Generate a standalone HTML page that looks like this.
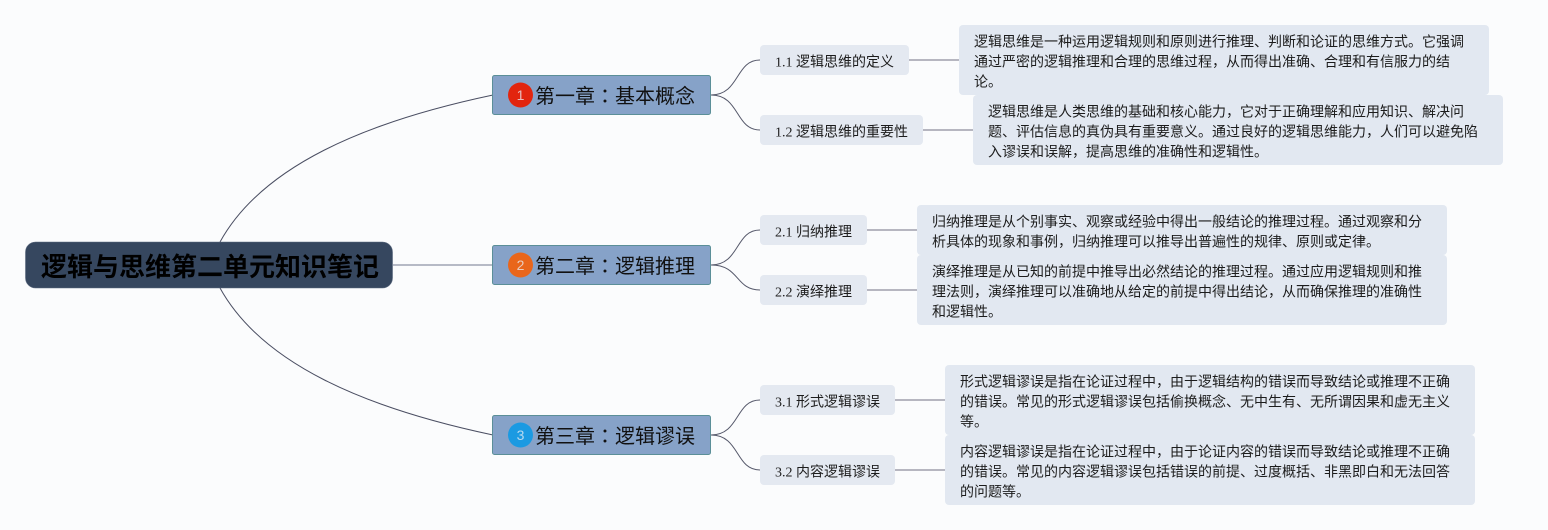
<!DOCTYPE html>
<html lang="zh">
<head>
<meta charset="utf-8">
<title>逻辑与思维第二单元知识笔记</title>
<style>
html,body{margin:0;padding:0;width:1548px;height:530px;overflow:hidden;background:#fbfcfd}
svg{display:block;position:absolute;left:0;top:0}
text{font-family:"Liberation Serif","WenQuanYi Zen Hei","Noto Sans CJK SC",serif;fill:#1c1c1c}
.d{font-size:14px}
.c{font-size:20px;fill:#111}
.n{font-size:14px;fill:#e9eef5;font-family:"Liberation Sans",sans-serif;text-anchor:middle;opacity:.75}
</style>
</head>
<body>
<svg width="1548" height="530" viewBox="0 0 1548 530" xmlns="http://www.w3.org/2000/svg">
<!-- root connectors -->
<g fill="none" stroke="#4a4e62" stroke-width="1">
<path d="M220 242C262 166 365 122 493 95"/>
<path d="M220 288C262 364 365 408 493 435"/>
</g>
<path d="M393 265H493" fill="none" stroke="#8d93a5" stroke-width="1.2"/>
<!-- chapter to section -->
<g fill="none" stroke="#55586a" stroke-width="1">
<path d="M711 95C740 95 735 60 760 60"/>
<path d="M711 95C740 95 735 130 760 130"/>
<path d="M711 265C740 265 735 230 760 230"/>
<path d="M711 265C740 265 735 290 760 290"/>
<path d="M711 435C740 435 735 400 760 400"/>
<path d="M711 435C740 435 735 470 760 470"/>
</g>
<!-- section to detail -->
<g fill="none" stroke="#8d8d9b" stroke-width="1.2">
<path d="M909 60H959"/>
<path d="M923 130H973"/>
<path d="M867 230H917"/>
<path d="M867 290H917"/>
<path d="M895 400H945"/>
<path d="M895 470H945"/>
</g>
<!-- root -->
<rect x="25.500" y="242" width="367" height="46" rx="10" fill="#36475f" stroke="#5d6b80" stroke-width=".6"/>
<text x="41" y="276" font-size="26" font-weight="700" style="fill:#000">逻辑与思维第二单元知识笔记</text>
<!-- chapters -->
<g fill="#86a2c8" stroke="#5b8f98" stroke-width="1">
<rect x="492.500" y="75.500" width="218" height="39" rx="2"/>
<rect x="492.500" y="245.500" width="218" height="39" rx="2"/>
<rect x="492.500" y="415.500" width="218" height="39" rx="2"/>
</g>
<circle cx="520.500" cy="95" r="12.500" fill="#e2250e"/>
<circle cx="520.500" cy="265" r="12.500" fill="#e9661b"/>
<circle cx="520.500" cy="435" r="12.500" fill="#1b9ae2"/>
<text class="n" x="520.500" y="100">1</text>
<text class="n" x="520.500" y="270">2</text>
<text class="n" x="520.500" y="440">3</text>
<text class="c" x="535" y="103">第一章<tspan dx="5" dy="-1">：</tspan><tspan dx="-5" dy="1">基本概念</tspan></text>
<text class="c" x="535" y="273">第二章<tspan dx="5" dy="-1">：</tspan><tspan dx="-5" dy="1">逻辑推理</tspan></text>
<text class="c" x="535" y="443">第三章<tspan dx="5" dy="-1">：</tspan><tspan dx="-5" dy="1">逻辑谬误</tspan></text>
<!-- sections -->
<g fill="#e4e9f1">
<rect x="760" y="45" width="149" height="30" rx="4"/>
<rect x="760" y="115" width="163" height="30" rx="4"/>
<rect x="760" y="215" width="107" height="30" rx="4"/>
<rect x="760" y="275" width="107" height="30" rx="4"/>
<rect x="760" y="385" width="135" height="30" rx="4"/>
<rect x="760" y="455" width="135" height="30" rx="4"/>
</g>
<text class="d" x="775" y="66.500">1.1 逻辑思维的定义</text>
<text class="d" x="775" y="136.500">1.2 逻辑思维的重要性</text>
<text class="d" x="775" y="236.500">2.1 归纳推理</text>
<text class="d" x="775" y="296.500">2.2 演绎推理</text>
<text class="d" x="775" y="406.500">3.1 形式逻辑谬误</text>
<text class="d" x="775" y="476.500">3.2 内容逻辑谬误</text>
<!-- details -->
<g fill="#e2e8f1">
<rect x="959" y="25" width="530" height="70" rx="4"/>
<rect x="973" y="95" width="530" height="70" rx="4"/>
<rect x="917" y="205" width="530" height="50" rx="4"/>
<rect x="917" y="255" width="530" height="70" rx="4"/>
<rect x="945" y="365" width="530" height="70" rx="4"/>
<rect x="945" y="435" width="530" height="70" rx="4"/>
</g>
<text class="d" x="974" y="46.500">逻辑思维是一种运用逻辑规则和原则进行推理、判断和论证的思维方式。它强调</text>
<text class="d" x="974" y="66.500">通过严密的逻辑推理和合理的思维过程，从而得出准确、合理和有信服力的结</text>
<text class="d" x="974" y="86.500">论。</text>
<text class="d" x="988" y="116.500">逻辑思维是人类思维的基础和核心能力，它对于正确理解和应用知识、解决问</text>
<text class="d" x="988" y="136.500">题、评估信息的真伪具有重要意义。通过良好的逻辑思维能力，人们可以避免陷</text>
<text class="d" x="988" y="156.500">入谬误和误解，提高思维的准确性和逻辑性。</text>
<text class="d" x="932" y="226.500">归纳推理是从个别事实、观察或经验中得出一般结论的推理过程。通过观察和分</text>
<text class="d" x="932" y="246.500">析具体的现象和事例，归纳推理可以推导出普遍性的规律、原则或定律。</text>
<text class="d" x="932" y="276.500">演绎推理是从已知的前提中推导出必然结论的推理过程。通过应用逻辑规则和推</text>
<text class="d" x="932" y="296.500">理法则，演绎推理可以准确地从给定的前提中得出结论，从而确保推理的准确性</text>
<text class="d" x="932" y="316.500">和逻辑性。</text>
<text class="d" x="960" y="386.500">形式逻辑谬误是指在论证过程中，由于逻辑结构的错误而导致结论或推理不正确</text>
<text class="d" x="960" y="406.500">的错误。常见的形式逻辑谬误包括偷换概念、无中生有、无所谓因果和虚无主义</text>
<text class="d" x="960" y="426.500">等。</text>
<text class="d" x="960" y="456.500">内容逻辑谬误是指在论证过程中，由于论证内容的错误而导致结论或推理不正确</text>
<text class="d" x="960" y="476.500">的错误。常见的内容逻辑谬误包括错误的前提、过度概括、非黑即白和无法回答</text>
<text class="d" x="960" y="496.500">的问题等。</text>
</svg>
</body>
</html>
